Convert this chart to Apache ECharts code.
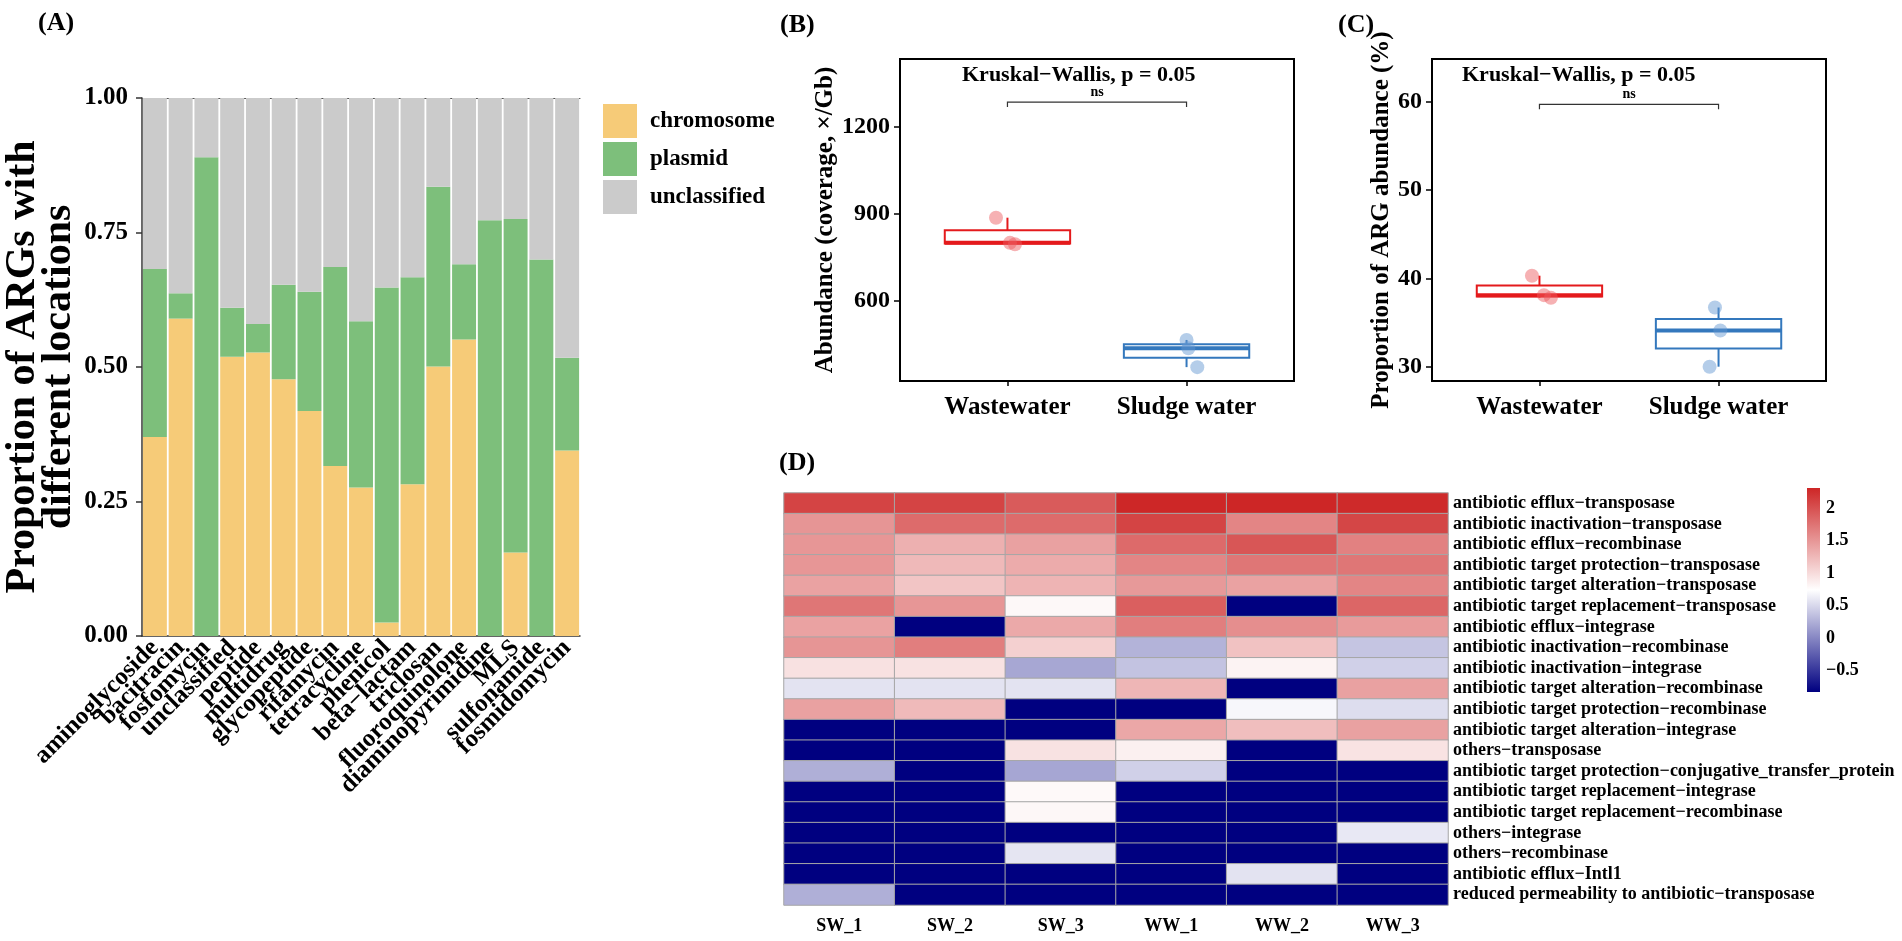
<!DOCTYPE html>
<html><head><meta charset="utf-8">
<script src="https://cdn.jsdelivr.net/npm/echarts@6/dist/echarts.min.js"></script>
<style>html,body{margin:0;padding:0;background:#fff}#c{width:1902px;height:941px}</style>
</head><body><div id="c"></div>
<script>
const FONT = '"Liberation Serif","Times New Roman",serif';

// ---------- Panel A data ----------
const argClasses = ['aminoglycoside','bacitracin','fosfomycin','unclassified','peptide','multidrug','glycopeptide','rifamycin','tetracycline','phenicol','beta−lactam','triclosan','fluoroquinolone','diaminopyrimidine','MLS','sulfonamide','fosmidomycin'];
const chromosome   = [0.370,0.590,0.000,0.519,0.527,0.477,0.418,0.316,0.276,0.025,0.282,0.501,0.551,0.000,0.155,0.000,0.345];
const plasmid      = [0.312,0.047,0.890,0.091,0.053,0.176,0.222,0.370,0.309,0.623,0.385,0.334,0.140,0.773,0.620,0.700,0.172];
const unclassified = [0.318,0.363,0.110,0.390,0.420,0.347,0.360,0.314,0.415,0.352,0.333,0.165,0.309,0.227,0.225,0.300,0.483];

// ---------- Panel B / C data ----------
const groups = ['Wastewater','Sludge water'];
const abundanceWW = [887, 800, 795];
const abundanceSW = [464, 435, 370];
const jitterB_WW = [-0.064, 0.014, 0.042];
const jitterB_SW = [0.000, 0.010, 0.060];
const yTicksB = [600, 900, 1200];
const proportionWW = [40.3, 38.1, 37.8];
const proportionSW = [36.7, 34.1, 30.0];
const jitterC_WW = [-0.042, 0.025, 0.064];
const jitterC_SW = [-0.020, 0.010, -0.050];
const yTicksC = [30, 40, 50, 60];
const bracketB = [1, 2, 1287];
const bracketC = [1, 2, 59.7];

// ---------- Panel D data ----------
const samples = ['SW_1','SW_2','SW_3','WW_1','WW_2','WW_3'];
const mechanisms = [
 'antibiotic efflux−transposase','antibiotic inactivation−transposase','antibiotic efflux−recombinase',
 'antibiotic target protection−transposase','antibiotic target alteration−transposase','antibiotic target replacement−transposase',
 'antibiotic efflux−integrase','antibiotic inactivation−recombinase','antibiotic inactivation−integrase',
 'antibiotic target alteration−recombinase','antibiotic target protection−recombinase','antibiotic target alteration−integrase',
 'others−transposase','antibiotic target protection−conjugative_transfer_protein','antibiotic target replacement−integrase',
 'antibiotic target replacement−recombinase','others−integrase','others−recombinase','antibiotic efflux−Intl1',
 'reduced permeability to antibiotic−transposase'];
const SW_1 = [2.09,1.51,1.50,1.50,1.41,1.73,1.41,1.51,0.96,0.57,1.42,-0.83,-0.83,0.25,-0.83,-0.83,-0.83,-0.83,-0.83,0.25];
const SW_2 = [2.09,1.81,1.31,1.25,1.16,1.50,-0.83,1.67,0.95,0.57,1.24,-0.83,-0.83,-0.83,-0.83,-0.83,-0.83,-0.83,-0.83,-0.83];
const SW_3 = [1.93,1.81,1.42,1.35,1.28,0.79,1.36,1.08,0.20,0.57,-0.83,-0.83,0.95,0.19,0.78,0.80,-0.83,0.58,-0.83,-0.83];
const WW_1 = [2.30,2.09,1.82,1.62,1.48,1.90,1.67,0.27,0.37,1.27,-0.83,1.38,0.85,0.45,-0.83,-0.83,-0.83,-0.83,-0.83,-0.83];
const WW_2 = [2.31,1.62,1.96,1.73,1.41,-0.83,1.56,1.18,0.83,-0.83,0.69,1.21,-0.83,-0.83,-0.83,-0.83,-0.83,-0.83,0.57,-0.83];
const WW_3 = [2.28,2.08,1.65,1.73,1.62,1.85,1.46,0.38,0.45,1.42,0.53,1.42,0.94,-0.83,-0.83,-0.83,0.60,-0.83,-0.83,-0.83];
const colorRange = [-0.83, 2.31];
const colorTicks = [-0.5, 0, 0.5, 1, 1.5, 2];

// ---------- helpers ----------
const sampleCols = [SW_1, SW_2, SW_3, WW_1, WW_2, WW_3];
const heatData = [];
sampleCols.forEach((col, ci) => col.forEach((v, ri) => heatData.push([ci, ri, v])));

function quantile(arr, p) {
  const s = [...arr].sort((a, b) => a - b);
  const h = (s.length - 1) * p, lo = Math.floor(h), hi = Math.ceil(h);
  return s[lo] + (h - lo) * (s[hi] - s[lo]);
}
function boxStats(x, arr, ci) {
  return [x, Math.min(...arr), quantile(arr, 0.25), quantile(arr, 0.5), quantile(arr, 0.75), Math.max(...arr), ci];
}
const BOX_COLORS = ['#E41A1C', '#3478BD'];
const PT_COLORS = ['rgba(236,92,96,0.6)', 'rgba(98,150,208,0.6)'];
const BOX_W = 0.7;
function renderBox(params, api) {
  const x = api.value(0), mn = api.value(1), q1 = api.value(2), md = api.value(3), q3 = api.value(4), mx = api.value(5);
  const c = BOX_COLORS[api.value(6)];
  const hw = BOX_W / 2;
  const tl = api.coord([x - hw, q3]), br = api.coord([x + hw, q1]);
  const a = api.coord([x, mx]), b = api.coord([x, q3]), d = api.coord([x, q1]), e = api.coord([x, mn]);
  const m1 = api.coord([x - hw, md]), m2 = api.coord([x + hw, md]);
  return { type: 'group', children: [
    { type: 'line', shape: { x1: a[0], y1: a[1], x2: b[0], y2: b[1] }, style: { stroke: c, lineWidth: 2 } },
    { type: 'line', shape: { x1: d[0], y1: d[1], x2: e[0], y2: e[1] }, style: { stroke: c, lineWidth: 2 } },
    { type: 'rect', shape: { x: tl[0], y: tl[1], width: br[0] - tl[0], height: br[1] - tl[1] }, style: { fill: '#fff', stroke: c, lineWidth: 2 } },
    { type: 'line', shape: { x1: m1[0], y1: m1[1], x2: m2[0], y2: m2[1] }, style: { stroke: c, lineWidth: 4 } }
  ]};
}
function renderBracket(params, api) {
  const p1 = api.coord([api.value(0), api.value(2)]), p2 = api.coord([api.value(1), api.value(2)]);
  return { type: 'group', children: [
    { type: 'polyline', shape: { points: [[p1[0], p1[1] + 5], p1, p2, [p2[0], p2[1] + 5]] }, style: { stroke: '#333', lineWidth: 1.2, fill: null } },
    { type: 'text', style: { x: (p1[0] + p2[0]) / 2, y: p1[1] - 3, text: 'ns', align: 'center', verticalAlign: 'bottom', fontFamily: FONT, fontSize: 14, fontWeight: 'bold', fill: '#000' } }
  ]};
}
function renderColorbar(params, api) {
  const tl = api.coord([0, api.value(1)]), br = api.coord([1, api.value(0)]);
  return { type: 'rect', shape: { x: tl[0], y: tl[1], width: br[0] - tl[0], height: br[1] - tl[1] },
    style: { fill: new echarts.graphic.LinearGradient(0, 0, 0, 1, [
      { offset: 0, color: '#CD2626' }, { offset: 0.5, color: '#FFFFFF' }, { offset: 1, color: '#000080' }]) } };
}
const jit = (vals, jits, x) => vals.map((v, i) => [x + jits[i], v]);

const boldTxt = (size) => ({ fontFamily: FONT, fontSize: size, fontWeight: 'bold', color: '#000' });

const boxXAxis = (grid) => ({
  type: 'value', gridIndex: grid, min: 0.4, max: 2.6, splitLine: { show: false },
  axisLine: { show: false },
  axisTick: { show: true, customValues: [1, 2], length: 5, lineStyle: { color: '#000', width: 1.5 } },
  axisLabel: { customValues: [1, 2], formatter: v => groups[Math.round(v) - 1], margin: 14, ...boldTxt(25) }
});
const boxYAxis = (grid, min, max, ticks, name, gap) => ({
  type: 'value', gridIndex: grid, min, max, splitLine: { show: false },
  axisLine: { show: false },
  axisTick: { show: true, customValues: ticks, length: 6, lineStyle: { color: '#000', width: 1.5 } },
  axisLabel: { customValues: ticks, margin: 10, formatter: v => String(v), ...boldTxt(24) },
  name, nameLocation: 'middle', nameRotate: 90, nameGap: gap, nameTextStyle: boldTxt(25)
});

const chart = echarts.init(document.getElementById('c'), null, { renderer: 'canvas' });
chart.setOption({
  animation: false,
  backgroundColor: '#fff',
  textStyle: { fontFamily: FONT },
  grid: [
    { left: 142, top: 98, width: 438, height: 538 },
    { left: 900, top: 59, width: 394, height: 322, show: true, borderColor: '#000', borderWidth: 2, backgroundColor: 'transparent' },
    { left: 1432, top: 59, width: 394, height: 322, show: true, borderColor: '#000', borderWidth: 2, backgroundColor: 'transparent' },
    { left: 784, top: 493, width: 664, height: 412 },
    { left: 1807, top: 488, width: 13, height: 204 }
  ],
  legend: {
    data: ['chromosome', 'plasmid', 'unclassified'], orient: 'vertical', left: 598, top: 99,
    itemWidth: 34, itemHeight: 34, itemGap: 4, icon: 'rect',
    textStyle: { ...boldTxt(23), padding: [0, 0, 0, 8] }
  },
  visualMap: { type: 'continuous', show: false, seriesIndex: 9, dimension: 2, min: colorRange[0], max: colorRange[1],
    inRange: { color: ['#000080', '#FFFFFF', '#CD2626'] } },
  xAxis: [
    { type: 'category', gridIndex: 0, data: argClasses,
      axisLine: { lineStyle: { color: '#333', width: 1.5 } },
      axisTick: { alignWithLabel: true, length: 6, lineStyle: { color: '#333', width: 1.5 } },
      axisLabel: { interval: 0, rotate: 45, margin: 8, ...boldTxt(25) } },
    { type: 'category', gridIndex: 0, data: argClasses, position: 'top',
      axisLine: { lineStyle: { color: '#555', width: 1 } }, axisTick: { show: false }, axisLabel: { show: false } },
    boxXAxis(1),
    boxXAxis(2),
    { type: 'category', gridIndex: 3, data: samples, axisLine: { show: false }, axisTick: { show: false },
      axisLabel: { margin: 12, ...boldTxt(18) } },
    { type: 'value', gridIndex: 4, min: 0, max: 1, show: false }
  ],
  yAxis: [
    { type: 'value', gridIndex: 0, min: 0, max: 1, interval: 0.25, splitLine: { show: false },
      axisLine: { show: true, lineStyle: { color: '#333', width: 1.5 } },
      axisTick: { show: true, length: 6, lineStyle: { color: '#333', width: 1.5 } },
      axisLabel: { margin: 14, formatter: v => v.toFixed(2), ...boldTxt(25) },
      name: 'Proportion of ARGs with\ndifferent locations', nameLocation: 'middle', nameRotate: 90, nameGap: 44,
      nameTextStyle: { ...boldTxt(42), lineHeight: 36 } },
    boxYAxis(1, 322, 1436, yTicksB, 'Abundance (coverage, ×/Gb)', 52),
    boxYAxis(2, 28.38, 64.83, yTicksC, 'Proportion of ARG abundance (%)', 32),
    { type: 'category', gridIndex: 3, data: mechanisms, inverse: true, position: 'right',
      axisLine: { show: false }, axisTick: { show: false },
      axisLabel: { interval: 0, align: 'left', margin: 5, ...boldTxt(18) } },
    { type: 'value', gridIndex: 4, min: colorRange[0], max: colorRange[1], position: 'right',
      splitLine: { show: false }, axisLine: { show: false }, axisTick: { show: false },
      axisLabel: { customValues: colorTicks, margin: 6, formatter: v => (v < 0 ? '−' + Math.abs(v) : String(v)), ...boldTxt(18) } }
  ],
  series: [
    { name: 'chromosome', type: 'bar', stack: 'loc', xAxisIndex: 0, yAxisIndex: 0, data: chromosome, barCategoryGap: '7%', itemStyle: { color: '#F6CB78' } },
    { name: 'plasmid', type: 'bar', stack: 'loc', xAxisIndex: 0, yAxisIndex: 0, data: plasmid, itemStyle: { color: '#7DBF7B' } },
    { name: 'unclassified', type: 'bar', stack: 'loc', xAxisIndex: 0, yAxisIndex: 0, data: unclassified, itemStyle: { color: '#CBCBCB' } },
    // B
    { type: 'custom', xAxisIndex: 2, yAxisIndex: 1, renderItem: renderBox,
      data: [boxStats(1, abundanceWW, 0), boxStats(2, abundanceSW, 1)], z: 2 },
    { type: 'scatter', xAxisIndex: 2, yAxisIndex: 1, symbolSize: 14, data: jit(abundanceWW, jitterB_WW, 1), itemStyle: { color: PT_COLORS[0] }, z: 3 },
    { type: 'scatter', xAxisIndex: 2, yAxisIndex: 1, symbolSize: 14, data: jit(abundanceSW, jitterB_SW, 2), itemStyle: { color: PT_COLORS[1] }, z: 3 },
    // C
    { type: 'custom', xAxisIndex: 3, yAxisIndex: 2, renderItem: renderBox,
      data: [boxStats(1, proportionWW, 0), boxStats(2, proportionSW, 1)], z: 2 },
    { type: 'scatter', xAxisIndex: 3, yAxisIndex: 2, symbolSize: 14, data: jit(proportionWW, jitterC_WW, 1), itemStyle: { color: PT_COLORS[0] }, z: 3 },
    { type: 'scatter', xAxisIndex: 3, yAxisIndex: 2, symbolSize: 14, data: jit(proportionSW, jitterC_SW, 2), itemStyle: { color: PT_COLORS[1] }, z: 3 },
    // D heatmap (index 9)
    { type: 'heatmap', xAxisIndex: 4, yAxisIndex: 3, data: heatData, itemStyle: { borderColor: '#A6A6A6', borderWidth: 1 } },
    // colorbar
    { type: 'custom', xAxisIndex: 5, yAxisIndex: 4, renderItem: renderColorbar, data: [colorRange], silent: true },
    // brackets
    { type: 'custom', xAxisIndex: 2, yAxisIndex: 1, renderItem: renderBracket, data: [bracketB] },
    { type: 'custom', xAxisIndex: 3, yAxisIndex: 2, renderItem: renderBracket, data: [bracketC] }
  ],
  graphic: [
    { type: 'text', left: 38, top: 10, style: { text: '(A)', font: 'bold 26px ' + FONT, fill: '#000' } },
    { type: 'text', left: 780, top: 12, style: { text: '(B)', font: 'bold 26px ' + FONT, fill: '#000' } },
    { type: 'text', left: 1338, top: 12, style: { text: '(C)', font: 'bold 26px ' + FONT, fill: '#000' } },
    { type: 'text', left: 779, top: 450, style: { text: '(D)', font: 'bold 26px ' + FONT, fill: '#000' } },
    { type: 'text', left: 962, top: 64, style: { text: 'Kruskal−Wallis, p = 0.05', font: 'bold 22px ' + FONT, fill: '#000' } },
    { type: 'text', left: 1462, top: 64, style: { text: 'Kruskal−Wallis, p = 0.05', font: 'bold 22px ' + FONT, fill: '#000' } }
  ]
});
</script></body></html>
